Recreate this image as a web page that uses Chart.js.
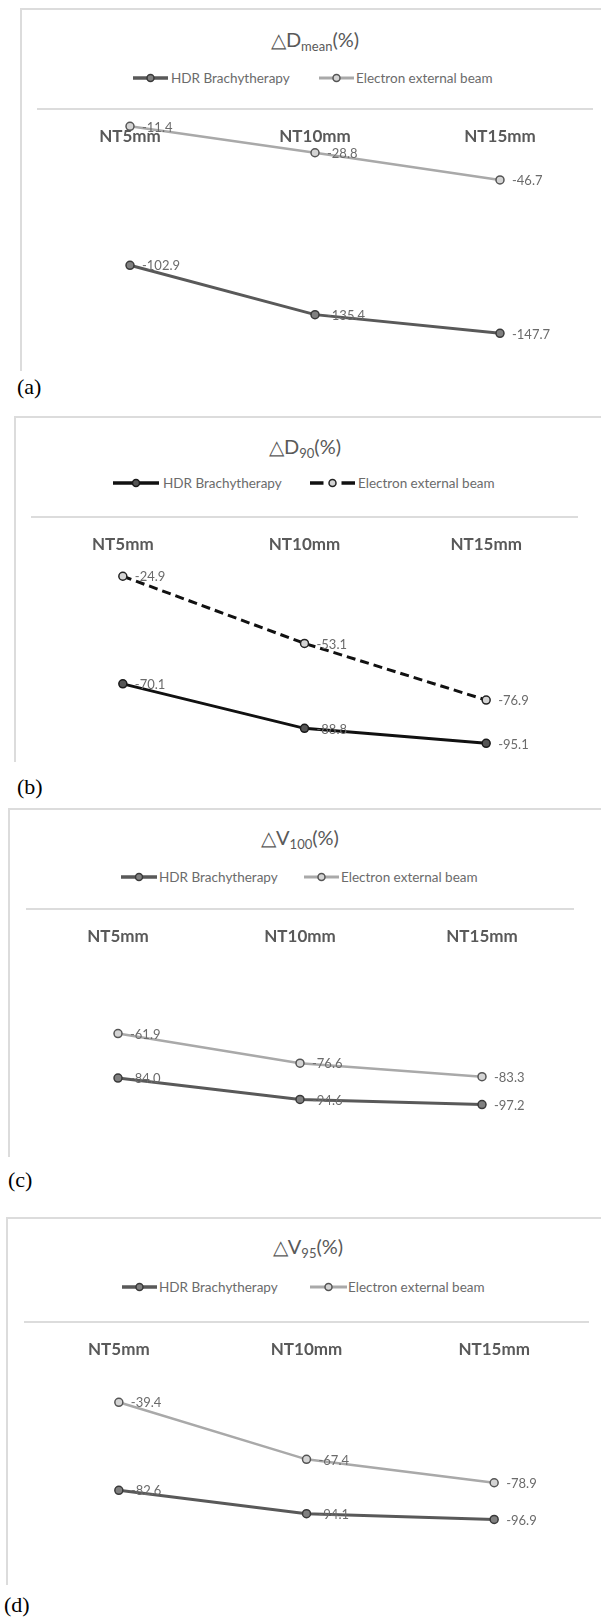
<!DOCTYPE html>
<html>
<head>
<meta charset="utf-8">
<script src="https://cdn.jsdelivr.net/npm/chart.js@4"></script>
<style>
  html, body { margin: 0; padding: 0; background: #fff; }
  body { width: 601px; height: 1617px; position: relative; overflow: hidden; font-family: Lato, "Open Sans", sans-serif; }
  .frame { position: absolute; border-top: 2px solid #dcdcdc; border-left: 2px solid #dcdcdc; }
  .title { position: absolute; transform: translate(-50%, -50%); color: #595959; font-size: 20px; white-space: nowrap; }
  .title sub { font-size: 13px; vertical-align: -4px; }
  .legtext { position: absolute; transform: translateY(-50%); color: #6b6b6b; font-size: 13.5px; white-space: nowrap; }
  .legline { position: absolute; transform: translateY(-50%); }
  .tag { position: absolute; transform: translateY(-50%); font-family: "Liberation Serif", serif; font-size: 22px; color: #000; }
  canvas { position: absolute; left: 0; }
</style>
</head>
<body>
<script>
// Data
const categories = ["NT5mm", "NT10mm", "NT15mm"];
const seriesNames = ["HDR Brachytherapy", "Electron external beam"];

const hdrDmean = [-102.9, -135.4, -147.7];
const eebDmean = [-11.4, -28.8, -46.7];
const hdrD90 = [-70.1, -88.8, -95.1];
const eebD90 = [-24.9, -53.1, -76.9];
const hdrV100 = [-84.0, -94.6, -97.2];
const eebV100 = [-61.9, -76.6, -83.3];
const hdrV95 = [-82.6, -94.1, -96.9];
const eebV95 = [-39.4, -67.4, -78.9];

const axisMins = [-160, -100, -120, -120];

// styles: gray look for a, c, d and black look for b
const grayLook = {
  hdr: { line: "#595959", width: 3, ptBorder: "#3a3a3a", ptFill: "#808080", dash: [] },
  eeb: { line: "#a9a9a9", width: 2.5, ptBorder: "#555555", ptFill: "#d4d4d4", dash: [] }
};
const blackLook = {
  hdr: { line: "#111111", width: 3, ptBorder: "#1a1a1a", ptFill: "#555555", dash: [] },
  eeb: { line: "#111111", width: 3, ptBorder: "#222222", ptFill: "#d4d4d4", dash: [9, 5] }
};

const panels = [
  { hdr: hdrDmean, eeb: eebDmean, min: axisMins[0], look: grayLook,
    frame: { l: 20, t: 8, b: 369 }, title: { cx: 315, cy: 40, main: "△D", sub: "mean" },
    legY: 78, leg: [[133, 168, 171], [319, 354, 356]],
    area: { l: 37.5, r: 592.5, zero: 109, bottom: 352 }, tag: { x: 17, y: 387, t: "(a)" } },
  { hdr: hdrD90, eeb: eebD90, min: axisMins[1], look: blackLook,
    frame: { l: 14, t: 416, b: 760 }, title: { cx: 305, cy: 447, main: "△D", sub: "90" },
    legY: 483, leg: [[113, 159, 163], [310, 355, 358]],
    area: { l: 32, r: 577, zero: 517, bottom: 755 }, tag: { x: 17, y: 787, t: "(b)" } },
  { hdr: hdrV100, eeb: eebV100, min: axisMins[2], look: grayLook,
    frame: { l: 8, t: 808, b: 1155 }, title: { cx: 300, cy: 838, main: "△V", sub: "100" },
    legY: 877, leg: [[121, 157, 159], [304, 339, 341]],
    area: { l: 27, r: 573, zero: 908.5, bottom: 1150 }, tag: { x: 8, y: 1180, t: "(c)" } },
  { hdr: hdrV95, eeb: eebV95, min: axisMins[3], look: grayLook,
    frame: { l: 6, t: 1217, b: 1583 }, title: { cx: 308, cy: 1247, main: "△V", sub: "95" },
    legY: 1287, leg: [[122, 157, 159], [310, 347, 348]],
    area: { l: 25, r: 588, zero: 1321.5, bottom: 1566 }, tag: { x: 4, y: 1605, t: "(d)" } }
];

// data labels to the right of each point
const valueLabels = {
  id: "valueLabels",
  afterDatasetsDraw(chart) {
    const ctx = chart.ctx;
    ctx.save();
    ctx.font = "13px Lato";
    ctx.fillStyle = "#6b6b6b";
    ctx.textBaseline = "middle";
    ctx.textAlign = "left";
    chart.data.datasets.forEach((ds, i) => {
      chart.getDatasetMeta(i).data.forEach((pt, j) => {
        ctx.fillText(ds.data[j].toFixed(1), pt.x + 12, pt.y + 1);
      });
    });
    ctx.restore();
  }
};

function el(tag, cls, css) {
  const e = document.createElement(tag);
  if (cls) e.className = cls;
  Object.assign(e.style, css || {});
  document.body.appendChild(e);
  return e;
}

function legendIcon(x1, x2, y, st) {
  const w = x2 - x1;
  const ns = "http://www.w3.org/2000/svg";
  const svg = document.createElementNS(ns, "svg");
  svg.setAttribute("width", w);
  svg.setAttribute("height", 12);
  svg.setAttribute("class", "legline");
  svg.style.left = x1 + "px";
  svg.style.top = y + "px";
  const mid = w / 2;
  const segs = st.dash.length ? [[0, mid - 9], [mid + 9, w]] : [[0, w]];
  segs.forEach(([a, b]) => {
    const ln = document.createElementNS(ns, "line");
    ln.setAttribute("x1", a); ln.setAttribute("x2", b);
    ln.setAttribute("y1", 6); ln.setAttribute("y2", 6);
    ln.setAttribute("stroke", st.line); ln.setAttribute("stroke-width", st.width + 0.5);
    svg.appendChild(ln);
  });
  const c = document.createElementNS(ns, "circle");
  c.setAttribute("cx", mid); c.setAttribute("cy", 6); c.setAttribute("r", 3.5);
  c.setAttribute("fill", st.ptFill); c.setAttribute("stroke", st.ptBorder); c.setAttribute("stroke-width", 1.5);
  svg.appendChild(c);
  document.body.appendChild(svg);
}

panels.forEach((p) => {
  // frame (only top and left edges are visible in the source figure)
  el("div", "frame", { left: p.frame.l + "px", top: p.frame.t + "px", width: (601 - p.frame.l) + "px", height: (p.frame.b - p.frame.t) + "px" });

  // title
  const t = el("div", "title", { left: p.title.cx + "px", top: p.title.cy + "px" });
  t.innerHTML = p.title.main + "<sub>" + p.title.sub + "</sub>(%)";

  // legend
  const looks = [p.look.hdr, p.look.eeb];
  p.leg.forEach((lg, i) => {
    legendIcon(lg[0], lg[1], p.legY, looks[i]);
    const tx = el("div", "legtext", { left: lg[2] + "px", top: p.legY + "px" });
    tx.textContent = seriesNames[i];
  });

  // panel tag
  const tg = el("div", "tag", { left: p.tag.x + "px", top: p.tag.y + "px" });
  tg.textContent = p.tag.t;

  // chart
  const padTop = 30, padBottom = 30;
  const cTop = p.area.zero - padTop;
  const cH = Math.round(p.area.bottom - p.area.zero + padTop + padBottom);
  const cv = document.createElement("canvas");
  cv.width = 601; cv.height = cH;
  cv.style.top = cTop + "px";
  cv.style.width = "601px"; cv.style.height = cH + "px";
  document.body.appendChild(cv);

  const mk = (name, data, st) => ({
    label: name,
    data: data,
    borderColor: st.line,
    borderWidth: st.width,
    borderDash: st.dash,
    pointRadius: 4,
    pointBorderWidth: 1.5,
    pointBorderColor: st.ptBorder,
    pointBackgroundColor: st.ptFill,
    tension: 0,
    fill: false
  });

  new Chart(cv, {
    type: "line",
    data: {
      labels: categories,
      datasets: [mk(seriesNames[0], p.hdr, p.look.hdr), mk(seriesNames[1], p.eeb, p.look.eeb)]
    },
    options: {
      responsive: false,
      animation: false,
      devicePixelRatio: 1,
      layout: { padding: { left: p.area.l, right: 601 - p.area.r, top: padTop, bottom: cH - padTop - (p.area.bottom - p.area.zero) } },
      plugins: { legend: { display: false }, tooltip: { enabled: false } },
      scales: {
        x: {
          position: { y: 0 },
          offset: true,
          grid: { display: false, drawTicks: false },
          border: { display: true, color: "#dcdcdc", width: 2 },
          ticks: { color: "#595959", font: { family: "Lato", size: 17, weight: "bold" }, padding: 17 }
        },
        y: { display: false, min: p.min, max: 0 }
      }
    },
    plugins: [valueLabels]
  });
});
</script>
</body>
</html>
